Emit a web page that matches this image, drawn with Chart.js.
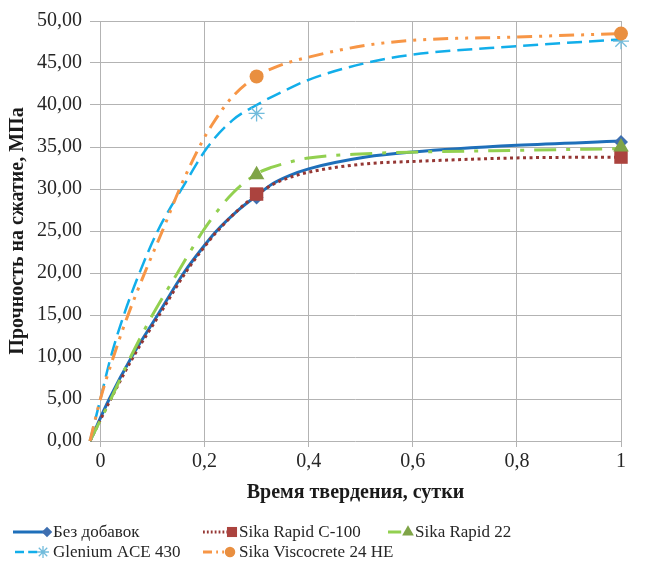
<!DOCTYPE html>
<html>
<head>
<meta charset="utf-8">
<script src="https://cdn.jsdelivr.net/npm/chart.js@4.4.1/dist/chart.umd.min.js"></script>
<style>
  html, body { margin: 0; padding: 0; background: #ffffff; }
  canvas { display: block; }
</style>
</head>
<body>
<canvas id="chart" width="646" height="577"></canvas>
<script>
// Series names (legend order)
const seriesNames = ['Без добавок', 'Sika Rapid C-100', 'Sika Rapid 22', 'Glenium ACE 430', 'Sika Viscocrete 24 HE'];

// Measured strength (МПа) at the test ages (сутки)
const testDays = [0.3, 1];
const bezDobavokMeasured     = [29.0, 35.6];
const sikaRapidC100Measured  = [29.4, 33.8];
const sikaRapid22Measured    = [31.7, 35.0];
const gleniumAce430Measured  = [39.0, 47.6];
const viscocrete24HEMeasured = [43.4, 48.5];

// Strength-gain curves: age (сутки) and strength (МПа) along each curve
const bezDobavokCurveDays     = [-0.02, 0.017, 0.06, 0.11, 0.16, 0.2, 0.22, 0.267, 0.3, 0.33, 0.363, 0.4, 0.51, 0.6, 0.8, 1];
const bezDobavokCurve         = [0, 5, 10, 15, 20, 23.3, 24.8, 27.6, 29.2, 30.6, 31.6, 32.4, 33.8, 34.4, 35.2, 35.7];
const sikaRapidC100CurveDays  = [-0.02, 0.02, 0.063, 0.113, 0.163, 0.202, 0.222, 0.268, 0.3, 0.33, 0.36, 0.4, 0.51, 0.61, 0.8, 1];
const sikaRapidC100Curve      = [0, 5, 10, 15, 20, 23.3, 24.8, 27.7, 29.3, 30.5, 31.3, 32.0, 33.0, 33.3, 33.7, 33.8];
const sikaRapid22CurveDays    = [-0.02, 0.02, 0.058, 0.1, 0.148, 0.197, 0.225, 0.254, 0.3, 0.33, 0.357, 0.4, 0.51, 0.61, 0.8, 1];
const sikaRapid22Curve        = [0, 5, 10, 15, 20, 25, 27.4, 29.5, 31.8, 32.6, 33.1, 33.7, 34.2, 34.4, 34.6, 34.8];
const gleniumAce430CurveDays  = [-0.02, 0, 0.02, 0.045, 0.075, 0.11, 0.16, 0.206, 0.254, 0.3, 0.35, 0.4, 0.51, 0.6, 0.8, 1];
const gleniumAce430Curve      = [0, 5, 10, 15, 20, 25, 30.4, 35, 38.2, 40.0, 41.6, 43.0, 45.0, 46.0, 47.0, 47.8];
const viscocrete24HECurveDays = [-0.02, 0, 0.025, 0.05, 0.085, 0.119, 0.152, 0.19, 0.216, 0.254, 0.3, 0.34, 0.4, 0.51, 0.6, 0.8, 1];
const viscocrete24HECurve     = [0, 5, 10, 14.5, 20, 25, 30, 35, 37.8, 41, 43.4, 44.6, 45.7, 47.1, 47.7, 48.1, 48.5];

// Axis ticks
const xTickValues = [0, 0.2, 0.4, 0.6, 0.8, 1];
const yTickValues = [0, 5, 10, 15, 20, 25, 30, 35, 40, 45, 50];

const measured = [bezDobavokMeasured, sikaRapidC100Measured, sikaRapid22Measured, gleniumAce430Measured, viscocrete24HEMeasured];
const curveDays = [bezDobavokCurveDays, sikaRapidC100CurveDays, sikaRapid22CurveDays, gleniumAce430CurveDays, viscocrete24HECurveDays];
const curves = [bezDobavokCurve, sikaRapidC100Curve, sikaRapid22Curve, gleniumAce430Curve, viscocrete24HECurve];

const styles = [
  { line: '#1E6FBA', marker: '#3E6FB0', dash: [],                  width: 3,   shape: 'rectRot',  r: 7 },
  { line: '#953734', marker: '#AB433E', dash: [3, 3.5],            width: 3,   shape: 'rect',     r: 9.5 },
  { line: '#92D050', marker: '#7FA447', dash: [22, 10, 4, 10],     width: 3,   shape: 'triangle', r: 9 },
  { line: '#12AEEA', marker: '#72BCDC', dash: [15, 7],             width: 2.5, shape: 'star',     r: 8 },
  { line: '#F79646', marker: '#E98F40', dash: [15, 7, 3, 7, 3, 7], width: 3,   shape: 'circle',   r: 7 }
];

const serif = '"Liberation Serif", "Times New Roman", serif';
const n = seriesNames.length;

const curveSets = seriesNames.map((name, i) => ({
  label: name,
  data: curveDays[i].map((d, k) => ({ x: d, y: curves[i][k] })),
  borderColor: styles[i].line,
  borderWidth: styles[i].width,
  borderDash: styles[i].dash,
  borderCapStyle: 'butt',
  cubicInterpolationMode: 'monotone',
  pointRadius: 0,
  pointHoverRadius: 0,
  fill: false,
  clip: false,
  order: 2 * n - i
}));

const markerSets = seriesNames.map((name, i) => ({
  label: name,
  data: testDays.map((d, k) => ({ x: d, y: measured[i][k] })),
  showLine: false,
  pointStyle: styles[i].shape,
  pointRadius: styles[i].r,
  pointHoverRadius: styles[i].r,
  pointBackgroundColor: styles[i].marker,
  pointBorderColor: styles[i].marker,
  pointBorderWidth: styles[i].shape === 'star' ? 1.3 : 0,
  clip: false,
  order: n - i
}));

// Legend below the plot: line sample, marker, series name
const legendLayout = [
  { lineFrom: 13,  marker: 47,  text: 53,  y: 532 },
  { lineFrom: 203, marker: 232, text: 239, y: 532 },
  { lineFrom: 388, marker: 408, text: 415, y: 532 },
  { lineFrom: 15,  marker: 43,  text: 53,  y: 552 },
  { lineFrom: 203, marker: 230, text: 239, y: 552 }
];

const legendPlugin = {
  id: 'seriesLegend',
  afterDraw(chart) {
    const ctx = chart.ctx;
    seriesNames.forEach((name, i) => {
      const pos = legendLayout[i];
      const s = styles[i];
      ctx.save();
      ctx.strokeStyle = s.line;
      ctx.lineWidth = s.width;
      ctx.setLineDash(s.dash.map(v => v * 0.6));
      ctx.beginPath();
      ctx.moveTo(pos.lineFrom, pos.y);
      ctx.lineTo(pos.marker, pos.y);
      ctx.stroke();
      ctx.setLineDash([]);
      ctx.fillStyle = s.marker;
      ctx.strokeStyle = s.marker;
      ctx.lineWidth = 1.3;
      Chart.helpers.drawPoint(ctx, {
        pointStyle: s.shape,
        radius: s.r * 0.75,
        rotation: 0,
        borderWidth: s.shape === 'star' ? 1.3 : 0
      }, pos.marker, pos.y);
      ctx.fillStyle = '#262626';
      ctx.font = '17px ' + serif;
      ctx.textBaseline = 'middle';
      ctx.textAlign = 'left';
      ctx.fillText(name, pos.text, pos.y + 1);
      ctx.restore();
    });
  }
};

new Chart(document.getElementById('chart'), {
  type: 'line',
  data: { datasets: [...curveSets, ...markerSets] },
  plugins: [legendPlugin],
  options: {
    responsive: false,
    animation: false,
    events: [],
    layout: { padding: { left: 0, right: 25, top: 21, bottom: 0 } },
    plugins: {
      legend: { display: false },
      tooltip: { enabled: false }
    },
    scales: {
      x: {
        type: 'linear',
        min: -0.02,
        max: 1,
        afterBuildTicks: scale => { scale.ticks = xTickValues.map(v => ({ value: v })); },
        afterFit: scale => { scale.height = 136; },
        grid: { color: '#B3B3B3', lineWidth: 1, drawTicks: true, tickLength: 6, tickColor: '#B3B3B3' },
        border: { display: false },
        ticks: {
          padding: 3,
          color: '#262626',
          font: { family: serif, size: 20 },
          maxRotation: 0,
          callback: v => String(Math.round(v * 10) / 10).replace('.', ',')
        },
        title: {
          display: true,
          text: 'Время твердения, сутки',
          color: '#1a1a1a',
          font: { family: serif, size: 20, weight: 'bold' },
          padding: { top: 0, bottom: 72 }
        }
      },
      y: {
        type: 'linear',
        min: 0,
        max: 50,
        afterBuildTicks: scale => { scale.ticks = yTickValues.map(v => ({ value: v })); },
        afterFit: scale => { scale.width = 90; },
        grid: { color: '#B3B3B3', lineWidth: 1, drawTicks: false },
        border: { display: false },
        ticks: {
          padding: 8,
          color: '#262626',
          font: { family: serif, size: 20 },
          callback: v => v.toFixed(2).replace('.', ',')
        },
        title: {
          display: true,
          text: 'Прочность на сжатие, МПа',
          color: '#1a1a1a',
          font: { family: serif, size: 20, weight: 'bold' },
          padding: { top: 6, bottom: 0 }
        }
      }
    }
  }
});
</script>
</body>
</html>
